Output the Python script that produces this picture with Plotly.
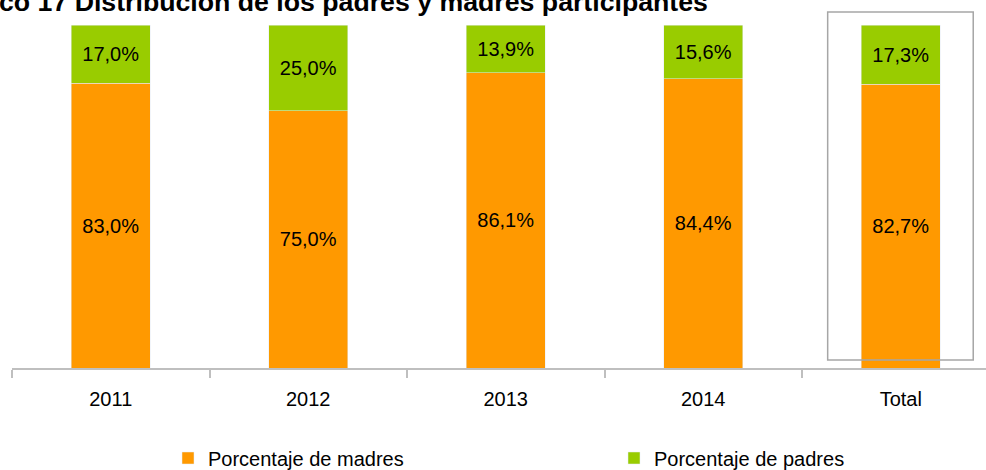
import plotly.graph_objects as go

categorias = ["2011", "2012", "2013", "2014", "Total"]
madres = [83.0, 75.0, 86.1, 84.4, 82.7]
padres = [17.0, 25.0, 13.9, 15.6, 17.3]
nombre_madres = "Porcentaje de madres"
nombre_padres = "Porcentaje de padres"
titulo = "co 17 Distribución de los padres y madres participantes"

FONT = "Liberation Sans, Arial, sans-serif"
NARANJA = "#FF9900"
VERDE = "#99CC00"

def fmt(v):
    return f"{v:.1f}%".replace(".", ",")

W, H = 986, 470
ml, mr, mt, mb = 12, 0, 25, 102
plot_w = W - ml - mr
plot_h = H - mt - mb
cat_px = 197.5
x_range = [-0.5, -0.5 + plot_w / cat_px]

def px_to_paper_x(px):
    return (px - ml) / plot_w

def px_to_paper_y(py):
    return (H - mb - py) / plot_h

fig = go.Figure()
fig.add_trace(go.Bar(
    x=categorias, y=madres, name=nombre_madres, marker_color=NARANJA,
    text=[fmt(v) for v in madres], textposition="inside",
    insidetextanchor="middle", textfont=dict(color="black", size=20, family=FONT),
    width=0.4, legend="legend",
))
fig.add_trace(go.Bar(
    x=categorias, y=padres, name=nombre_padres, marker_color=VERDE,
    text=[fmt(v) for v in padres], textposition="inside",
    insidetextanchor="middle", textfont=dict(color="black", size=20, family=FONT),
    width=0.4, legend="legend2",
))

# box around the "Total" category, expressed in paper coords from category index
idx_total = categorias.index("Total")
def xpaper(v):
    return (v - x_range[0]) / (x_range[1] - x_range[0])
fig.add_shape(type="rect", xref="paper", yref="paper",
              x0=xpaper(idx_total - 0.37), x1=xpaper(idx_total + 0.367),
              y0=px_to_paper_y(360), y1=px_to_paper_y(12),
              line=dict(color="#A6A6A6", width=1.5), fillcolor="rgba(0,0,0,0)")

fig.add_annotation(text="<b>" + titulo + "</b>", xref="paper", yref="paper",
                   x=px_to_paper_x(-3), y=px_to_paper_y(2), xanchor="left", yanchor="middle",
                   showarrow=False, font=dict(size=26.7, family=FONT, color="black"))

leg_common = dict(orientation="h", xanchor="left", yanchor="middle",
                  y=px_to_paper_y(458), bgcolor="rgba(0,0,0,0)",
                  font=dict(size=20, family=FONT, color="black"))

fig.update_layout(
    width=W, height=H, barmode="stack",
    margin=dict(l=ml, r=mr, t=mt, b=mb, autoexpand=False),
    paper_bgcolor="white", plot_bgcolor="white",
    font=dict(family=FONT, size=20, color="black"),
    showlegend=True,
    legend=dict(x=px_to_paper_x(168), **leg_common),
    legend2=dict(x=px_to_paper_x(614), **leg_common),
    xaxis=dict(range=x_range, showline=True, linecolor="#BFBFBF", linewidth=2,
               ticks="outside", tickson="boundaries", ticklen=8, tickwidth=2,
               tickcolor="#BFBFBF", showgrid=False, zeroline=False,
               ticklabelstandoff=12,
               tickfont=dict(size=20, family=FONT, color="black")),
    yaxis=dict(range=[0, 100], visible=False, showgrid=False, zeroline=False),
)

fig.write_html("out.html", config={"displayModeBar": False},
               post_script="document.body.style.margin='0px';document.body.style.overflow='hidden';")
